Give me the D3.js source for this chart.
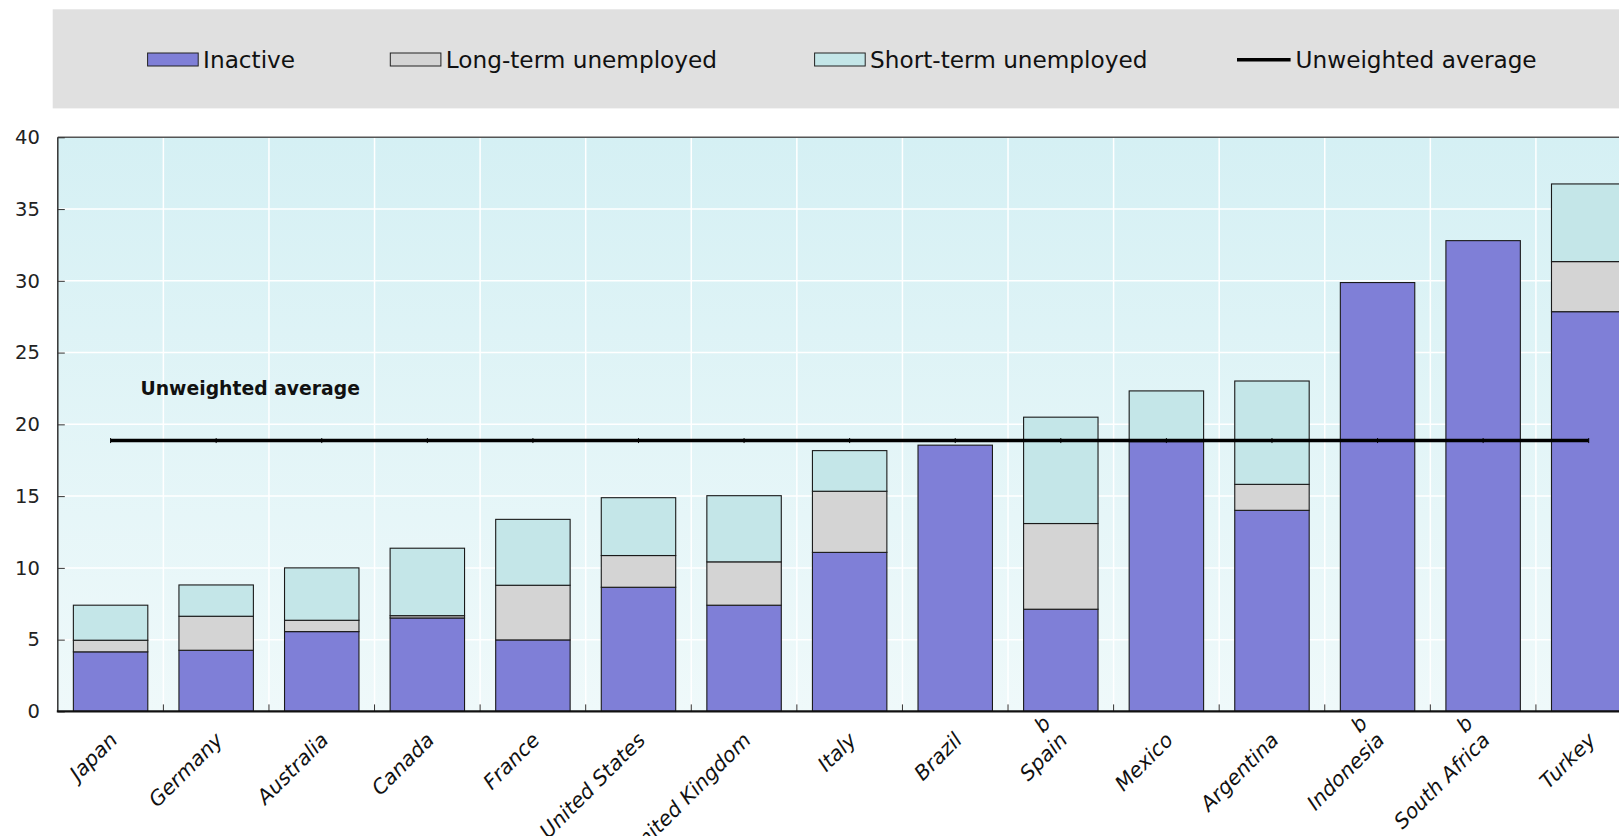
<!DOCTYPE html>
<html><head><meta charset="utf-8">
<script src="https://cdn.jsdelivr.net/npm/d3@7"></script>
<style>
html,body{margin:0;padding:0;background:#fff;overflow:hidden}
svg{display:block;font-family:"DejaVu Sans",sans-serif}
</style></head>
<body>
<svg id="chart" width="1619" height="836"></svg>
<script>
const categories = ["Japan","Germany","Australia","Canada","France","United States","United Kingdom","Italy","Brazil","Spain","Mexico","Argentina","Indonesia","South Africa","Turkey"];
const notes = ["","","","","","","","","","b","","","b","b",""];
const inactive  = [4.15, 4.26, 5.56, 6.51, 4.98, 8.65, 7.40, 11.08, 18.55, 7.12, 18.80, 14.01, 29.88, 32.80, 27.85];
const longTerm  = [0.81, 2.37, 0.79, 0.16, 3.81, 2.21, 3.02, 4.26, 0, 5.97, 0.10, 1.81, 0, 0, 3.49];
const shortTerm = [2.44, 2.18, 3.65, 4.70, 4.59, 4.03, 4.61, 2.83, 0, 7.41, 3.43, 7.20, 0, 0, 5.41];
const average = 18.87;
const yTicks = [0,5,10,15,20,25,30,35,40];
const seriesNames = ["Inactive","Long-term unemployed","Short-term unemployed"];
const lineName = "Unweighted average";

const colors = {"Inactive":"#7f7fd7","Long-term unemployed":"#d4d4d4","Short-term unemployed":"#c4e6e8"};

const svg = d3.select("#chart");
const L = 57.8, T = 137.3, B = 711.4, R = 1641.5;

const x = d3.scaleBand().domain(categories).range([L, R]).paddingInner(0.295).paddingOuter(0.1475);
const y = d3.scaleLinear().domain([0, 40]).range([B, T]);

const defs = svg.append("defs");
const grad = defs.append("linearGradient").attr("id","bg").attr("x1",0).attr("y1",0).attr("x2",0).attr("y2",1);
grad.append("stop").attr("offset","0%").attr("stop-color","#d5f0f4");
grad.append("stop").attr("offset","100%").attr("stop-color","#eff9fa");

// legend
svg.append("rect").attr("x",52.7).attr("y",9.3).attr("width",1619-52.7).attr("height",99.1).attr("fill","#e0e0e0");

const legendX = [147.6, 390.3, 814.6];
seriesNames.forEach((s,i)=>{
  svg.append("rect").attr("x",legendX[i]).attr("y",53).attr("width",50.6).attr("height",13)
    .attr("fill",colors[s]).attr("stroke","#222").attr("stroke-width",1);
  svg.append("text").attr("x",legendX[i]+55.5).attr("y",60).attr("dy","0.36em")
    .attr("font-size",23.2).attr("fill","#111").text(s);
});
svg.append("line").attr("x1",1237).attr("x2",1290.6).attr("y1",59.8).attr("y2",59.8).attr("stroke","#000").attr("stroke-width",3.5);
svg.append("text").attr("x",1295.5).attr("y",60).attr("dy","0.36em").attr("font-size",23.2).attr("fill","#111").text(lineName);

// plot background
const clip = defs.append("clipPath").attr("id","pc");
clip.append("rect").attr("x",L).attr("y",T).attr("width",R-L).attr("height",B-T);
svg.append("rect").attr("x",L).attr("y",T).attr("width",R-L).attr("height",B-T).attr("fill","url(#bg)");

// grid
const g = svg.append("g").attr("clip-path","url(#pc)");
g.selectAll(".hg").data(yTicks.filter(d=>d>0 && d<40)).enter().append("line")
  .attr("x1",L).attr("x2",R).attr("y1",d=>y(d)).attr("y2",d=>y(d)).attr("stroke","#fff").attr("stroke-width",1.5);
const bounds = categories.slice(1).map(c=>x(c) - x.step()*x.paddingInner()/2);
g.selectAll(".vg").data(bounds).enter().append("line")
  .attr("x1",d=>d).attr("x2",d=>d).attr("y1",T).attr("y2",B).attr("stroke","#fff").attr("stroke-width",1.5);

// stacked bars
const rows = categories.map((c,i)=>({cat:c, "Inactive":inactive[i], "Long-term unemployed":longTerm[i], "Short-term unemployed":shortTerm[i]}));
const stack = d3.stack().keys(seriesNames)(rows);
stack.forEach(layer=>{
  svg.append("g").selectAll("rect").data(layer.filter(d=>d[1]-d[0]>0)).enter().append("rect")
    .attr("x",d=>x(d.data.cat)).attr("width",x.bandwidth())
    .attr("y",d=>y(d[1])).attr("height",d=>y(d[0])-y(d[1]))
    .attr("fill",colors[layer.key]).attr("stroke","#1a1a1a").attr("stroke-width",1.1);
});

// x ticks at boundaries (pointing up)
svg.selectAll(".xt").data(bounds).enter().append("line")
  .attr("x1",d=>d).attr("x2",d=>d).attr("y1",B).attr("y2",B-7).attr("stroke","#333").attr("stroke-width",1);

// average line
const avgLine = d3.line().x(d=>x(d)+x.bandwidth()/2).y(()=>y(average));
svg.append("path").attr("d",avgLine(categories)).attr("fill","none").attr("stroke","#000").attr("stroke-width",3.5);
svg.selectAll(".am").data(categories).enter().append("line")
  .attr("x1",d=>x(d)+x.bandwidth()/2).attr("x2",d=>x(d)+x.bandwidth()/2)
  .attr("y1",y(average)-2.5).attr("y2",y(average)+2.5).attr("stroke","#000").attr("stroke-width",1);

svg.append("text").attr("x",140.5).attr("y",y(22.5)).attr("dy","0.36em")
  .attr("font-size",18.8).attr("font-weight","bold").attr("fill","#111").text(lineName);

// axes frame
svg.append("line").attr("x1",L).attr("x2",R).attr("y1",T).attr("y2",T).attr("stroke","#555").attr("stroke-width",1.5);
svg.append("line").attr("x1",L).attr("x2",L).attr("y1",T).attr("y2",B).attr("stroke","#333").attr("stroke-width",1.5);

const yAxis = d3.axisLeft(y).tickValues(yTicks).tickSize(-7).tickPadding(18).tickFormat(d3.format("d"));
const ya = svg.append("g").attr("transform",`translate(${L},0)`).call(yAxis);
ya.select(".domain").remove();
ya.selectAll("line").attr("stroke","#333");
ya.selectAll("text").attr("font-size",19.5).attr("fill","#222").attr("font-family","DejaVu Sans");

svg.append("line").attr("x1",L-1).attr("x2",R).attr("y1",B).attr("y2",B).attr("stroke","#111").attr("stroke-width",2.2);

// category labels
const lab = svg.append("g").selectAll("text").data(categories).enter().append("text")
  .attr("transform",d=>`translate(${x(d)+x.bandwidth()/2+8},${B+30}) rotate(-45)`)
  .attr("text-anchor","end").attr("font-size",20.5).attr("font-style","italic").attr("fill","#111");
lab.each(function(d,i){
  const t = d3.select(this);
  if (notes[i]) t.append("tspan").attr("x",0).attr("y",-24).text(notes[i]);
  t.append("tspan").attr("x",0).attr("y",0).text(d);
});
</script>
</body></html>
